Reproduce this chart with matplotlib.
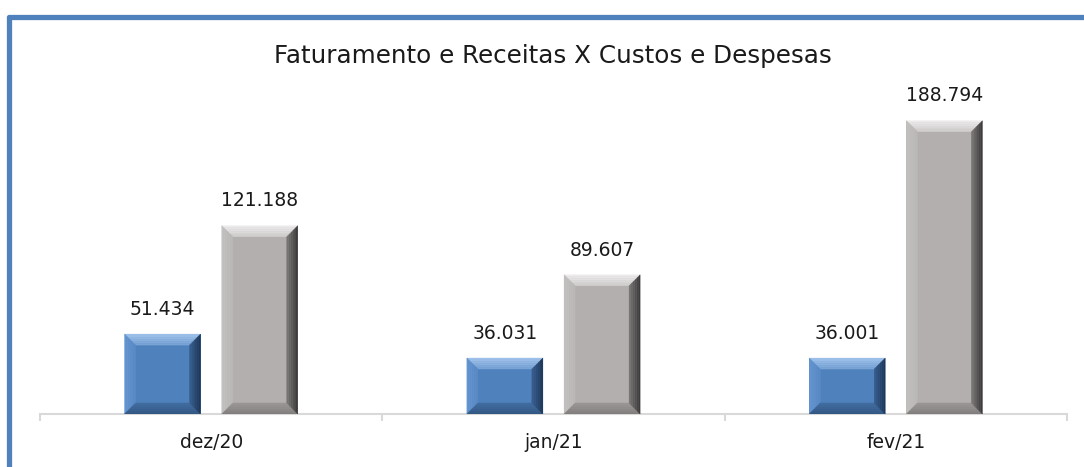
import numpy as np
import matplotlib
matplotlib.use('Agg')
import matplotlib.pyplot as plt
from matplotlib.patches import Polygon
from matplotlib.lines import Line2D
from matplotlib.colors import to_rgb

# Data (values in thousands, pt-BR format)
categories = ['dez/20', 'jan/21', 'fev/21']
faturamento = [51.434, 36.031, 36.001]
custos = [121.188, 89.607, 188.794]
value_labels_fat = ['51.434', '36.031', '36.001']
value_labels_cus = ['121.188', '89.607', '188.794']

TITLE = 'Faturamento e Receitas X Custos e Despesas'

plt.rcParams['font.family'] = ['DejaVu Sans']

fig = plt.figure(figsize=(10.84, 4.67), dpi=100)
ax = fig.add_axes([0.0369, 0.1135, 0.9474, 0.7152])

x = np.arange(len(categories))
width = 0.222
offset = 0.142
YMAX = 215

BLUE = {'face': '#4f81bd', 'top': '#a4c6ee', 'left': '#6596d2',
        'right': '#1c3556', 'bottom': '#31557f'}
GRAY = {'face': '#b3afaf', 'top': '#f0eeee', 'left': '#c4c1c1',
        'right': '#373535', 'bottom': '#7f7b7b'}


def mix(c1, c2, t):
    a, b = np.array(to_rgb(c1)), np.array(to_rgb(c2))
    return tuple(a + (b - a) * t)


def bevel_bars(xs, heights, colors, steps=6):
    bars = ax.bar(xs, heights, width, color=colors['face'], edgecolor='none', zorder=2)
    # bevel of ~11 px converted to data units
    dx = 11 * (3.0 / 1027)
    dy = 11 * (YMAX / 334.0)
    for b in bars:
        x0 = b.get_x()
        x1 = x0 + b.get_width()
        h = b.get_height()
        d = min(dy, h / 2)
        for i in range(steps):
            t0, t1 = i / steps, (i + 1) / steps
            ax0, ax1 = x0 + dx * t0, x1 - dx * t0
            bx0, bx1 = x0 + dx * t1, x1 - dx * t1
            ay0, ay1 = d * t0, h - d * t0
            by0, by1 = d * t1, h - d * t1
            tc = (i + 0.5) / steps
            faces = [
                ([(ax0, ay1), (ax1, ay1), (bx1, by1), (bx0, by1)], colors['top']),
                ([(ax0, ay0), (ax0, ay1), (bx0, by1), (bx0, by0)], colors['left']),
                ([(ax0, ay0), (ax1, ay0), (bx1, by0), (bx0, by0)], colors['bottom']),
                ([(ax1, ay0), (ax1, ay1), (bx1, by1), (bx1, by0)], colors['right']),
            ]
            for pts, c in faces:
                fc = mix(c, colors['face'], 0.55 * tc)
                ax.add_patch(Polygon(pts, closed=True, facecolor=fc, edgecolor=fc,
                                     lw=0.3, zorder=3))
    return bars


b1 = bevel_bars(x - offset, faturamento, BLUE)
b2 = bevel_bars(x + offset, custos, GRAY)

for bars, labels in [(b1, value_labels_fat), (b2, value_labels_cus)]:
    for b, lab in zip(bars, labels):
        ax.annotate(lab, (b.get_x() + b.get_width() / 2, b.get_height()),
                    xytext=(0, 11), textcoords='offset points',
                    ha='center', va='bottom', fontsize=13.5, color='#1a1a1a')

ax.set_xlim(-0.5, len(categories) - 0.5)
ax.set_ylim(0, YMAX)
ax.set_xticks(x)
ax.set_xticklabels(categories, fontsize=13.5, color='#1a1a1a')
ax.set_xticks(np.arange(-0.5, len(categories)), minor=True)
ax.tick_params(axis='x', which='major', length=0, pad=14)
ax.tick_params(axis='x', which='minor', length=5, width=1.5, color='#d9d9d9')
ax.set_yticks([])
for s in ['left', 'right', 'top']:
    ax.spines[s].set_visible(False)
ax.spines['bottom'].set_color('#d9d9d9')
ax.spines['bottom'].set_linewidth(1.5)

fig.text(0.51, 0.88, TITLE, ha='center', va='center', fontsize=17.7, color='#1a1a1a')

# blue frame on the left and top, as in the reference
W, H = 1084.0, 467.0
fig.add_artist(Line2D([9 / W, 9 / W], [0, 1 - 17 / H], color='#4f81bd', lw=3.8,
                      solid_joinstyle='round', solid_capstyle='round'))
fig.add_artist(Line2D([9 / W, 1.0], [1 - 17 / H, 1 - 17 / H], color='#4f81bd', lw=3.8,
                      solid_joinstyle='round', solid_capstyle='round'))

fig.savefig('out.png', dpi=100)
